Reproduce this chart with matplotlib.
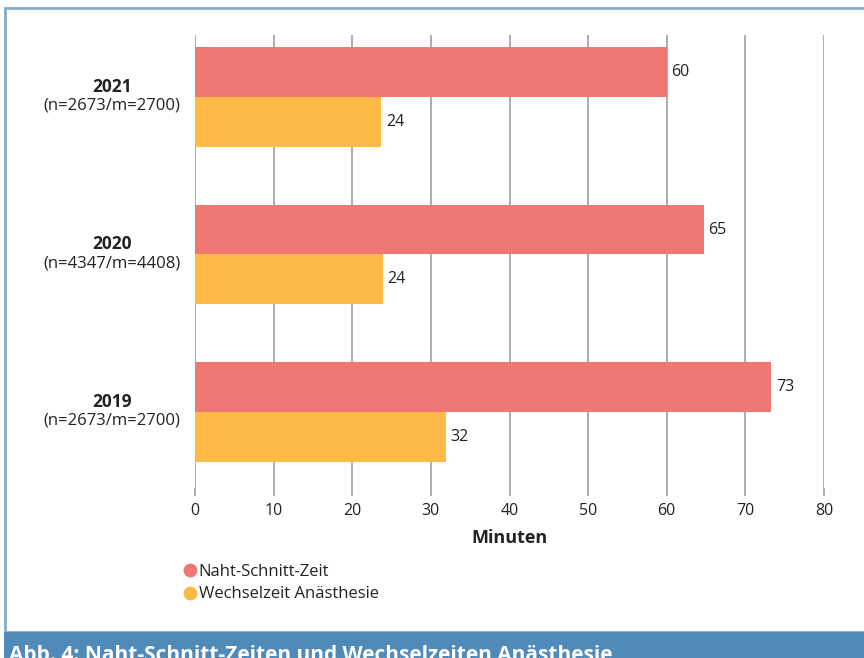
import matplotlib
matplotlib.use("Agg")
import matplotlib.pyplot as plt
from matplotlib.patches import Rectangle
from matplotlib.lines import Line2D

plt.rcParams['font.family'] = ['Open Sans', 'DejaVu Sans']
plt.rcParams['font.stretch'] = 'normal'

years = ["2019", "2020", "2021"]
samples = ["(n=2673/m=2700)", "(n=4347/m=4408)", "(n=2673/m=2700)"]
naht_schnitt = [73.3, 64.7, 60.0]
wechselzeit = [31.9, 23.9, 23.7]
series_names = ["Naht-Schnitt-Zeit", "Wechselzeit Anästhesie"]
xticks = [0, 10, 20, 30, 40, 50, 60, 70, 80]
xlabel = "Minuten"
title = "Abb. 4: Naht-Schnitt-Zeiten und Wechselzeiten Anästhesie"

RED = "#F07874"
YEL = "#FDBA47"
TXT = "#222222"
GRID = "#A6A6A6"

W, H = 864, 658
fig = plt.figure(figsize=(W / 100, H / 100), dpi=100)

def fx(px):
    return px / W

def fy(py):
    return 1 - py / H

# frame and banner
fig.add_artist(Rectangle((fx(5), fy(632)), fx(870) - fx(5), fy(7.5) - fy(632),
                         transform=fig.transFigure, fill=False,
                         edgecolor="#82ACCD", linewidth=2))
fig.add_artist(Rectangle((fx(4), 0), 1, fy(632), transform=fig.transFigure,
                         facecolor="#4F8AB8", edgecolor="none"))
fig.text(fx(9), fy(661), title, color="white", fontsize=15, fontweight="bold",
         ha="left", va="baseline")

ax = fig.add_axes([fx(195), fy(488), fx(824) - fx(195), fy(35) - fy(488)])
h = 0.317
pos = list(range(len(years)))
b1 = ax.barh([p + h / 2 for p in pos], naht_schnitt, height=h, color=RED, zorder=2)
b2 = ax.barh([p - h / 2 for p in pos], wechselzeit, height=h, color=YEL, zorder=2)
for bars, vals in ((b1, naht_schnitt), (b2, wechselzeit)):
    for bar, v in zip(bars, vals):
        ax.text(v + 0.6, bar.get_y() + bar.get_height() / 2, f"{v:.0f}",
                va="center", ha="left", fontsize=11.5, color=TXT)

ax.set_xlim(0, 80)
ax.set_ylim(-0.483, 2.394)
ax.set_xticks(xticks)
ax.set_xticklabels([str(t) for t in xticks], fontsize=11.5, color=TXT)
ax.set_yticks([])
ax.grid(axis="x", color=GRID, linewidth=1.3, zorder=1)
ax.tick_params(axis="x", length=6, color=GRID, width=1.3, pad=5)
for s in ax.spines.values():
    s.set_visible(False)
ax.set_xlabel(xlabel, fontsize=13, fontweight="bold", color=TXT, labelpad=7)

for p, y, s in zip(pos, years, samples):
    ax.text(-10.6, p + 0.065, y, ha="center", va="center", fontsize=12.5,
            fontweight="bold", color=TXT, transform=ax.transData)
    ax.text(-10.6, p - 0.055, s, ha="center", va="center", fontsize=12,
            color=TXT, transform=ax.transData)

handles = [Line2D([], [], marker="o", linestyle="none", markersize=10,
                  markerfacecolor=c, markeredgecolor="none") for c in (RED, YEL)]
fig.legend(handles, series_names, loc="upper left",
           bbox_to_anchor=(fx(167), fy(557)), frameon=False, fontsize=12,
           handletextpad=-0.5, labelspacing=0.4, borderaxespad=0,
           labelcolor=TXT)

fig.savefig("out.png", dpi=100)
